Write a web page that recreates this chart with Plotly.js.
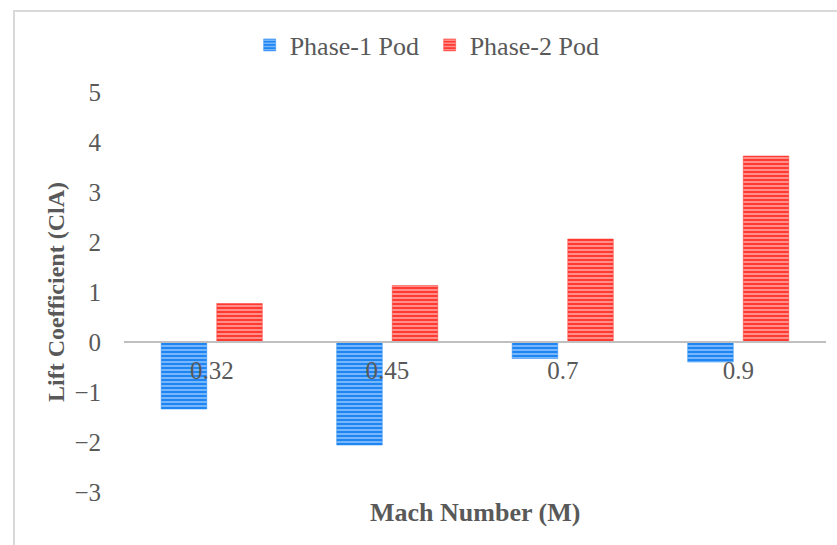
<!DOCTYPE html>
<html>
<head>
<meta charset="utf-8">
<script src="https://cdn.plot.ly/plotly-3.0.1.min.js"></script>
<style>
  html, body { margin: 0; padding: 0; background: #ffffff; }
  #wrap { position: relative; width: 837px; height: 545px; overflow: hidden; }
  #frame { position: absolute; left: 13px; top: 10px; width: 830px; height: 540px;
           border-left: 2px solid #d9d9d9; border-top: 2px solid #d9d9d9; }
  #chart { position: absolute; left: 0; top: 0; width: 837px; height: 545px; }
</style>
</head>
<body>
<div id="wrap">
  <div id="frame"></div>
  <div id="chart"></div>
</div>
<script>
// Mach numbers tested and lift coefficient for each pod design
const machLabels = ["0.32", "0.45", "0.7", "0.9"];
const phase1Lift = [-1.34, -2.06, -0.33, -0.40];
const phase2Lift = [0.77, 1.13, 2.06, 3.72];

const yRange = [-3, 5];
const serif = "Times New Roman, Liberation Serif, Times, serif";
const grey = "#595959";

function hatched(bg, fg) {
  return {
    color: bg,
    line: { color: bg, width: 0.5 },
    pattern: { shape: "-", bgcolor: bg, fgcolor: fg, fillmode: "replace", size: 4, solidity: 0.35 }
  };
}

const traces = [
  { type: "bar", name: "Phase-1 Pod", x: machLabels, y: phase1Lift,
    marker: hatched("#1e86f2", "#9fcbff"), hoverinfo: "skip" },
  { type: "bar", name: "Phase-2 Pod", x: machLabels, y: phase2Lift,
    marker: hatched("#ff3a33", "#ffb3ad"), hoverinfo: "skip" }
];

// paper position of y = 0 so the category axis sits on the zero line
const zeroPos = (0 - yRange[0]) / (yRange[1] - yRange[0]);

const layout = {
  width: 837, height: 545,
  margin: { l: 124, r: 11, t: 92, b: 53 },
  paper_bgcolor: "rgba(0,0,0,0)",
  plot_bgcolor: "rgba(0,0,0,0)",
  barmode: "group",
  bargap: 0.367,
  bargroupgap: 0.18,
  font: { family: serif, color: grey, size: 24 },
  showlegend: true,
  legend: {
    orientation: "h", x: 0.179, xanchor: "left", y: 1.1175, yanchor: "middle",
    font: { family: serif, size: 26, color: grey }, itemwidth: 30, entrywidth: 135,
    traceorder: "normal"
  },
  xaxis: {
    type: "category",
    anchor: "free", position: zeroPos,
    showline: true, linecolor: "#bfbfbf", linewidth: 2,
    showgrid: false, zeroline: false,
    ticks: "", ticklabelstandoff: 6,
    tickfont: { family: serif, size: 25, color: grey }
  },
  yaxis: {
    range: yRange, dtick: 1, tick0: 0,
    showgrid: false, zeroline: false, showline: false,
    ticks: "", ticklabelstandoff: 22,
    tickfont: { family: serif, size: 25, color: grey },
    title: { text: "<b>Lift Coefficient (ClA)</b>", font: { family: serif, size: 24, color: grey }, standoff: 2 }
  },
  annotations: [{
    xref: "paper", yref: "paper", x: 0.5, y: -0.05, yanchor: "middle", showarrow: false,
    text: "<b>Mach Number (M)</b>", font: { family: serif, size: 26, color: grey }
  }]
};

Plotly.newPlot("chart", traces, layout, { displayModeBar: false, staticPlot: true });
</script>
</body>
</html>
